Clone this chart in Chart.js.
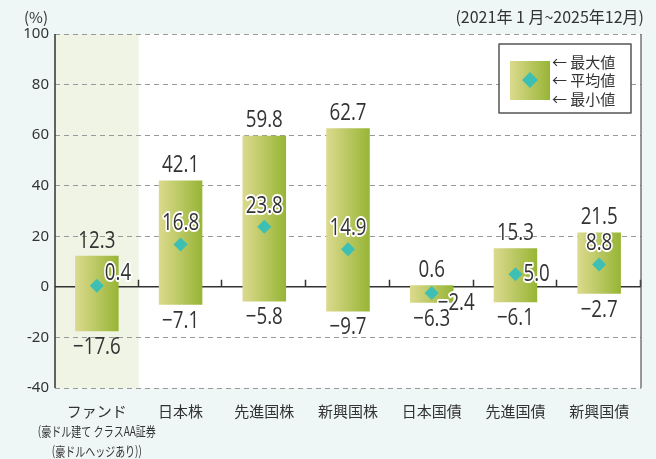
<!DOCTYPE html>
<html>
<head>
<meta charset="utf-8">
<script src="https://cdn.jsdelivr.net/npm/chart.js@4"></script>
<style>
  body { margin: 0; background: #eef6f6; }
  canvas { display: block; }
</style>
</head>
<body>
<canvas id="chart" width="656" height="459"></canvas>
<script>
const categories = ['ファンド', '日本株', '先進国株', '新興国株', '日本国債', '先進国債', '新興国債'];
const subLabels = ['(豪ドル建て クラスAA証券', '(豪ドルヘッジあり))'];
const maxValues = [12.3, 42.1, 59.8, 62.7, 0.6, 15.3, 21.5];
const avgValues = [0.4, 16.8, 23.8, 14.9, -2.4, 5.0, 8.8];
const minValues = [-17.6, -7.1, -5.8, -9.7, -6.3, -6.1, -2.7];
const yTicks = [100, 80, 60, 40, 20, 0, -20, -40];
const periodText = '(2021年 1 月~2025年12月)';
const unitText = '(%)';
const legendTexts = ['← 最大値', '← 平均値', '← 最小値'];

const avgPlacement = ['right', 'above', 'above', 'above', 'belowRight', 'right', 'above'];

const TEXT = '#333';
const NUM_FONT = "24px 'Open Sans', sans-serif";
const JP = "'Noto Sans CJK JP', sans-serif";
const DIAMOND = '#3dbfb4';
const BAR_PCT = 0.52;

const fmt = v => (v < 0 ? '\u2212' + Math.abs(v).toFixed(1) : v.toFixed(1));

// narrow the number labels a little, the original uses a condensed face
const narrowText = (ctx, t, x, y, stroke) => {
  const w = ctx.measureText(t).width * 0.78;
  if (stroke) ctx.strokeText(t, x, y, w);
  ctx.fillText(t, x, y, w);
};

const barGradient = (ctx, x0, x1) => {
  const g = ctx.createLinearGradient(x0, 0, x1, 0);
  g.addColorStop(0, '#dcda8e');
  g.addColorStop(1, '#97b535');
  return g;
};

const barFill = context => {
  const chart = context.chart;
  const xs = chart.scales.x;
  const a = chart.chartArea;
  if (!xs || !a || context.dataIndex === undefined) return '#b8c860';
  const cx = xs.getPixelForValue(context.dataIndex);
  const half = (a.right - a.left) / categories.length * BAR_PCT / 2;
  if (!isFinite(cx) || !isFinite(half)) return '#b8c860';
  return barGradient(chart.ctx, cx - half, cx + half);
};

const decor = {
  id: 'decor',
  beforeDraw(chart) {
    const { ctx, chartArea: a } = chart;
    ctx.save();
    ctx.fillStyle = '#fff';
    ctx.fillRect(a.left, a.top, a.right - a.left, a.bottom - a.top);
    const step = (a.right - a.left) / categories.length;
    ctx.fillStyle = '#f0f4e4';
    ctx.fillRect(a.left, a.top, step, a.bottom - a.top);
    ctx.restore();
  },
  beforeDatasetsDraw(chart) {
    const { ctx, chartArea: a, scales: { y } } = chart;
    const y0 = y.getPixelForValue(0);
    const step = (a.right - a.left) / categories.length;
    ctx.save();
    ctx.strokeStyle = '#333';
    ctx.lineWidth = 1.5;
    ctx.beginPath();
    ctx.moveTo(a.left, y0); ctx.lineTo(a.right, y0);
    for (let i = 1; i <= categories.length; i++) {
      const xx = Math.round(a.left + step * i) - 0.5;
      ctx.moveTo(xx, y0); ctx.lineTo(xx, y0 - 7);
    }
    ctx.stroke();
    ctx.beginPath();
    ctx.moveTo(a.left, a.top); ctx.lineTo(a.left, a.bottom);
    ctx.stroke();
    ctx.strokeStyle = '#555';
    ctx.lineWidth = 1.2;
    ctx.beginPath();
    ctx.moveTo(a.right, a.top); ctx.lineTo(a.right, a.bottom);
    ctx.stroke();
    ctx.restore();
  },
  afterDatasetsDraw(chart) {
    const { ctx, scales: { x, y } } = chart;
    const avgMeta = chart.getDatasetMeta(1);
    ctx.save();
    ctx.font = NUM_FONT;
    ctx.textBaseline = 'middle';
    ctx.fillStyle = TEXT;
    categories.forEach((c, i) => {
      const cx = x.getPixelForValue(i);
      ctx.textAlign = 'center';
      narrowText(ctx, fmt(maxValues[i]), cx, y.getPixelForValue(maxValues[i]) - 15);
      narrowText(ctx, fmt(minValues[i]), cx, y.getPixelForValue(minValues[i]) + 16);

      const p = avgMeta.data[i];
      let tx = p.x, ty = p.y;
      ctx.textAlign = 'center';
      if (avgPlacement[i] === 'right') { tx += 8; ctx.textAlign = 'left'; ty -= (avgValues[i] < 2 ? 13 : 0); }
      else if (avgPlacement[i] === 'above') { ty -= 21; }
      else if (avgPlacement[i] === 'belowRight') { tx += 6; ty += 10; ctx.textAlign = 'left'; }
      ctx.lineJoin = 'round';
      ctx.strokeStyle = '#fff';
      ctx.lineWidth = 4;
      narrowText(ctx, fmt(avgValues[i]), tx, ty, true);
    });

    // category labels
    ctx.textAlign = 'center';
    ctx.font = '15px ' + JP;
    categories.forEach((c, i) => {
      ctx.fillText(c, x.getPixelForValue(i), 411);
    });
    const fx = x.getPixelForValue(0);
    ctx.font = '13px ' + JP;
    ctx.fillText(subLabels[0], fx, 431, 118);
    ctx.fillText(subLabels[1], fx, 451, 90);

    // header texts
    ctx.font = '16px ' + JP;
    ctx.textAlign = 'right';
    ctx.fillText(periodText, 644, 17, 191);
    ctx.textAlign = 'center';
    ctx.font = '15px ' + JP;
    ctx.fillText(unitText, 36, 17);

    // legend
    ctx.fillStyle = '#fff';
    ctx.fillRect(499, 44, 132, 69);
    ctx.strokeStyle = '#555';
    ctx.lineWidth = 1.5;
    ctx.strokeRect(499, 44, 132, 69);
    ctx.fillStyle = barGradient(ctx, 510, 550);
    ctx.fillRect(510, 61, 40, 39);
    ctx.fillStyle = DIAMOND;
    ctx.beginPath();
    ctx.moveTo(530, 72); ctx.lineTo(538, 80); ctx.lineTo(530, 88); ctx.lineTo(522, 80);
    ctx.closePath();
    ctx.fill();
    ctx.fillStyle = TEXT;
    ctx.font = '15px ' + JP;
    ctx.textAlign = 'left';
    legendTexts.forEach((t, k) => ctx.fillText(t, 552, 62 + k * 18.5));
    ctx.restore();
  }
};

new Chart(document.getElementById('chart'), {
  data: {
    labels: categories,
    datasets: [
      {
        type: 'bar',
        data: categories.map((c, i) => [minValues[i], maxValues[i]]),
        backgroundColor: barFill,
        borderWidth: 0,
        categoryPercentage: 1,
        barPercentage: BAR_PCT,
        order: 2
      },
      {
        type: 'line',
        data: avgValues,
        showLine: false,
        pointStyle: 'rectRot',
        pointRadius: 7,
        pointBackgroundColor: DIAMOND,
        pointBorderWidth: 0,
        order: 1
      }
    ]
  },
  options: {
    responsive: false,
    devicePixelRatio: 1,
    animation: false,
    layout: { padding: { top: 34, right: 15, left: 0, bottom: 0 } },
    plugins: { legend: { display: false }, tooltip: { enabled: false } },
    scales: {
      x: {
        offset: true,
        grid: { display: false },
        border: { display: false },
        ticks: { display: false },
        afterFit: s => { s.height = 71; }
      },
      y: {
        min: -40,
        max: 100,
        afterBuildTicks: s => { s.ticks = yTicks.map(v => ({ value: v })); },
        ticks: {
          color: TEXT,
          padding: 6,
          font: { family: 'Noto Sans', size: 15 }
        },
        grid: { color: '#999', lineWidth: 1, drawTicks: false },
        border: { display: false, dash: [5, 4] },
        afterFit: s => { s.width = 55; }
      }
    }
  },
  plugins: [decor]
});
</script>
</body>
</html>
